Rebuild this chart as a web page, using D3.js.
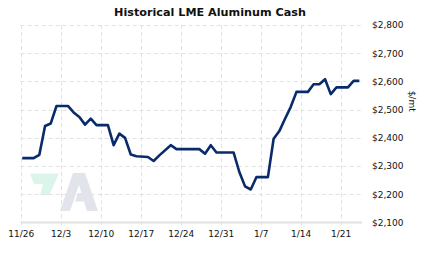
<!DOCTYPE html>
<html>
<head>
<meta charset="utf-8">
<script src="https://cdn.jsdelivr.net/npm/d3@7"></script>
<style>
  body { margin: 0; background: #fff; }
  text { font-family: "DejaVu Sans", Verdana, sans-serif; }
</style>
</head>
<body>
<svg width="423" height="257"></svg>
<script>
// LME aluminum cash, $/mt
var dates = ["2007-11-26","2007-11-28","2007-11-29","2007-11-30","2007-12-01","2007-12-02","2007-12-04",
  "2007-12-05","2007-12-06","2007-12-07","2007-12-08","2007-12-09","2007-12-11","2007-12-12","2007-12-13",
  "2007-12-14","2007-12-15","2007-12-16","2007-12-18","2007-12-19","2007-12-20","2007-12-22","2007-12-23",
  "2007-12-27","2007-12-28","2007-12-29","2007-12-30","2008-01-02","2008-01-03","2008-01-04","2008-01-05",
  "2008-01-06","2008-01-08","2008-01-09","2008-01-10","2008-01-11","2008-01-12","2008-01-13","2008-01-15",
  "2008-01-16","2008-01-17","2008-01-18","2008-01-19","2008-01-20","2008-01-22","2008-01-23","2008-01-24"];
var prices = [2328,2328,2340,2442,2451,2513,2513,
  2490,2474,2447,2468,2445,2445,2374,2415,
  2400,2341,2335,2332,2318,2338,2374,2360,
  2360,2344,2374,2348,2348,2279,2228,2217,
  2261,2261,2397,2424,2468,2510,2563,2563,
  2590,2590,2608,2555,2579,2579,2602,2602];
var tickDates = ["2007-11-26","2007-12-03","2007-12-10","2007-12-17","2007-12-24","2007-12-31","2008-01-07","2008-01-14","2008-01-21"];
var yTicks = [2100,2200,2300,2400,2500,2600,2700,2800];
var title = "Historical LME Aluminum Cash";
var unit = "$/mt";

var svg = d3.select("svg");
var parseDate = d3.timeParse("%Y-%m-%d");

var data = dates.map(function(d, i) { return {date: parseDate(d), price: prices[i]}; });
var ticks = tickDates.map(parseDate);

var plotLeft = 20.7, plotRight = 362, plotTop = 25, plotBottom = 222.5;

var x = d3.scaleTime()
    .domain([ticks[0], ticks[ticks.length - 1]])
    .range([plotLeft, 340.7]);
var y = d3.scaleLinear().domain([2100, 2800]).range([plotBottom, plotTop]);

// watermark
var wm = svg.append("g");
wm.append("path")
    .attr("d", "M30,173.5L59,173.5L49.5,195L40,195L43,184L34,184Z")
    .style("fill", "#dcf5ea");
wm.append("path")
    .attr("d", "M73,173L85,173L98,211L87,211L84,201.5L75,201.5L78,193L81.5,193L79,185L70,211L60,211Z")
    .style("fill", "#e1e4ea");

// grid
svg.append("g").selectAll("line")
  .data(yTicks.slice(1))
  .enter().append("line")
    .attr("x1", plotLeft).attr("x2", plotRight)
    .attr("y1", function(d) { return Math.round(y(d)) + 0.5; })
    .attr("y2", function(d) { return Math.round(y(d)) + 0.5; })
    .style("stroke", "#e2e2e2")
    .style("stroke-dasharray", "4,3");

svg.append("g").selectAll("line")
  .data(ticks)
  .enter().append("line")
    .attr("x1", function(d) { return Math.round(x(d)) + 0.5; })
    .attr("x2", function(d) { return Math.round(x(d)) + 0.5; })
    .attr("y1", plotTop).attr("y2", plotBottom + 4)
    .style("stroke", "#e2e2e2")
    .style("stroke-dasharray", "4,3");

// bottom axis line
svg.append("line")
    .attr("x1", plotLeft).attr("x2", plotRight)
    .attr("y1", plotBottom).attr("y2", plotBottom)
    .style("stroke", "#e2e2e2")
    .style("stroke-width", 2);

// x axis labels
svg.append("g")
    .attr("transform", "translate(0," + (plotBottom + 3) + ")")
    .call(d3.axisBottom(x).tickValues(ticks).tickFormat(d3.timeFormat("%-m/%-d")).tickSize(0).tickPadding(5))
    .call(function(g) { g.select(".domain").remove(); })
    .selectAll("text")
    .style("font-size", "9px")
    .style("font-family", "'DejaVu Sans', Verdana, sans-serif")
    .style("fill", "#111");

// y axis labels (right side)
svg.append("g")
    .attr("transform", "translate(" + plotRight + ",0)")
    .call(d3.axisRight(y).tickValues(yTicks).tickFormat(function(d) { return "$" + d3.format(",")(d); }).tickSize(0).tickPadding(10))
    .call(function(g) { g.select(".domain").remove(); })
    .selectAll("text")
    .style("font-size", "9px")
    .style("font-family", "'DejaVu Sans', Verdana, sans-serif")
    .style("fill", "#111");

svg.append("text")
    .attr("transform", "translate(409," + y(2530) + ") rotate(90)")
    .attr("text-anchor", "middle")
    .style("font-size", "9px")
    .style("fill", "#111")
    .text(unit);

// price line
var line = d3.line()
    .x(function(d) { return x(d.date); })
    .y(function(d) { return y(d.price); });

svg.append("path")
    .datum(data)
    .attr("transform", "translate(1.5,0)")
    .attr("d", line)
    .style("fill", "none")
    .style("stroke", "#0a2b6b")
    .style("stroke-width", 2.6)
    .style("stroke-linejoin", "round");

svg.append("text")
    .attr("x", 210)
    .attr("y", 16)
    .attr("text-anchor", "middle")
    .style("font-size", "11.2px")
    .style("font-weight", "bold")
    .style("fill", "#111")
    .text(title);
</script>
</body>
</html>
